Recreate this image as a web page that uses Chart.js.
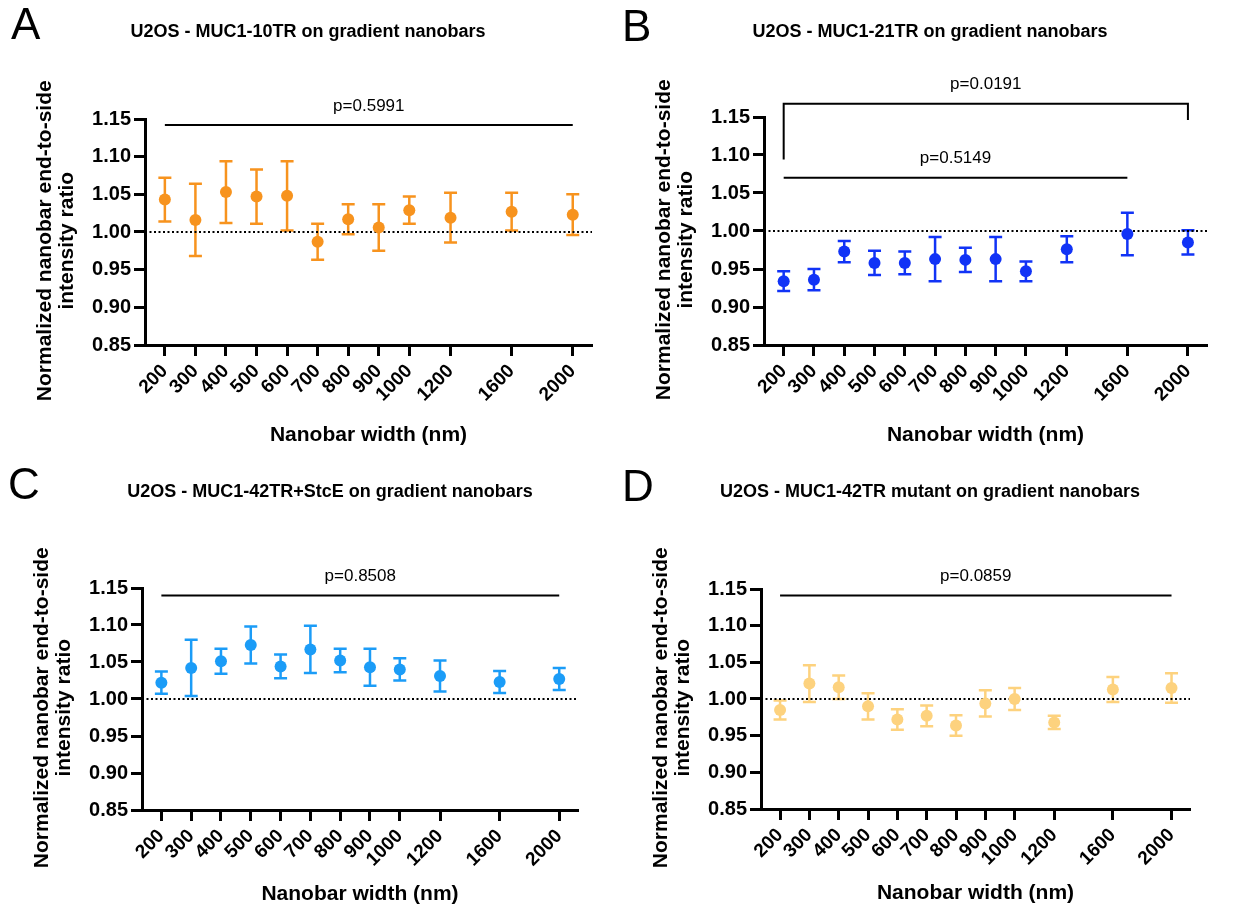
<!DOCTYPE html>
<html>
<head>
<meta charset="utf-8">
<script src="https://cdn.jsdelivr.net/npm/chart.js@4/dist/chart.umd.min.js"></script>
<style>
  html, body { margin: 0; padding: 0; background: #fff; }
  body { width: 1235px; height: 915px; position: relative; overflow: hidden; font-family: "Liberation Sans", Arial, sans-serif; }
  .panel { position: absolute; }
  .letter { position: absolute; font-family: "Liberation Sans", Arial, sans-serif; font-size: 44px; line-height: 44px; color: #000; }
  .title { position: absolute; font-size: 18px; line-height: 18px; font-weight: bold; white-space: nowrap; transform: translateX(-50%); color: #000; }
</style>
</head>
<body>
<script>
// --- data ---
const WIDTHS = [200, 300, 400, 500, 600, 700, 800, 900, 1000, 1200, 1600, 2000];
const Y_TICKS = [0.85, 0.90, 0.95, 1.00, 1.05, 1.10, 1.15];
const REF_LEVEL = 1.0;

// x axis spacing is uneven (like the Prism layout): piecewise linear
const WIDTH_KNOTS = [200, 1000, 1200, 1600, 2000];
const SLOT_KNOTS = [0, 8, 9.35, 11.35, 13.35];

const meanA = [1.043, 1.016, 1.053, 1.047, 1.048, 0.987, 1.017, 1.006, 1.029, 1.019, 1.027, 1.023];
const errA  = [0.029, 0.048, 0.041, 0.036, 0.046, 0.024, 0.020, 0.031, 0.018, 0.033, 0.025, 0.027];

const meanB = [0.934, 0.936, 0.973, 0.958, 0.958, 0.963, 0.962, 0.963, 0.947, 0.976, 0.996, 0.985];
const errB  = [0.013, 0.014, 0.014, 0.016, 0.015, 0.029, 0.016, 0.029, 0.013, 0.017, 0.028, 0.016];

const meanC = [1.022, 1.042, 1.051, 1.073, 1.044, 1.067, 1.052, 1.043, 1.040, 1.031, 1.023, 1.027];
const errC  = [0.015, 0.038, 0.017, 0.025, 0.016, 0.032, 0.016, 0.025, 0.015, 0.021, 0.015, 0.015];

const meanD = [0.985, 1.021, 1.016, 0.990, 0.972, 0.977, 0.964, 0.994, 1.000, 0.968, 1.013, 1.015];
const errD  = [0.013, 0.025, 0.016, 0.018, 0.014, 0.014, 0.014, 0.018, 0.015, 0.009, 0.017, 0.020];

// significance lines: from/to widths, level on the y scale, optional bracket legs
const pLinesA = [{ from: 200, to: 2000, level: 1.142, text: 'p=0.5991' }];
const pLinesB = [
  { from: 200, to: 2000, level: 1.1675, legs: [1.094, 1.146], text: 'p=0.0191' },
  { from: 200, to: 1600, level: 1.070, text: 'p=0.5149' }
];
const pLinesC = [{ from: 200, to: 2000, level: 1.140, text: 'p=0.8508' }];
const pLinesD = [{ from: 200, to: 2000, level: 1.141, text: 'p=0.0859' }];

// --- layout ---
const Y_BOX = 145;     // room for y title + tick labels
const TOP_PAD = 119;   // room above the plot for p-value lines
const RIGHT_PAD = 25;
const X_MIN = -0.65, X_MAX = 13.98;

Chart.defaults.font.family = '"Liberation Sans", Arial, sans-serif';
Chart.defaults.color = '#000';

function toSlot(w) {
  for (let i = 1; i < WIDTH_KNOTS.length; i++) {
    if (w <= WIDTH_KNOTS[i]) {
      const t = (w - WIDTH_KNOTS[i - 1]) / (WIDTH_KNOTS[i] - WIDTH_KNOTS[i - 1]);
      return SLOT_KNOTS[i - 1] + t * (SLOT_KNOTS[i] - SLOT_KNOTS[i - 1]);
    }
  }
  return SLOT_KNOTS[SLOT_KNOTS.length - 1];
}

function addText(cls, text, css) {
  const d = document.createElement('div');
  d.className = cls;
  d.textContent = text;
  Object.assign(d.style, css);
  document.body.appendChild(d);
}

// error bars (drawn under the dots)
function errorBarPlugin(errors, color) {
  return {
    id: 'errorBars',
    beforeDatasetsDraw(chart) {
      const meta = chart.getDatasetMeta(1);
      const ys = chart.scales.y;
      const ctx = chart.ctx;
      ctx.save();
      ctx.strokeStyle = color;
      ctx.lineWidth = 2.5;
      meta.data.forEach((pt, i) => {
        const v = chart.data.datasets[1].data[i].y;
        const top = ys.getPixelForValue(v + errors[i]);
        const bot = ys.getPixelForValue(v - errors[i]);
        ctx.beginPath();
        ctx.moveTo(pt.x, top); ctx.lineTo(pt.x, bot);
        ctx.moveTo(pt.x - 6.5, top); ctx.lineTo(pt.x + 6.5, top);
        ctx.moveTo(pt.x - 6.5, bot); ctx.lineTo(pt.x + 6.5, bot);
        ctx.stroke();
      });
      ctx.restore();
    }
  };
}

// p-value lines / brackets above the plot
function pValuePlugin(lines) {
  return {
    id: 'pValues',
    afterDraw(chart) {
      const xs = chart.scales.x, ys = chart.scales.y;
      const ctx = chart.ctx;
      ctx.save();
      ctx.strokeStyle = '#000';
      ctx.fillStyle = '#000';
      ctx.lineWidth = 2;
      ctx.font = '17px "Liberation Sans", Arial, sans-serif';
      ctx.textAlign = 'center';
      ctx.textBaseline = 'alphabetic';
      lines.forEach(l => {
        const x1 = xs.getPixelForValue(toSlot(l.from));
        const x2 = xs.getPixelForValue(toSlot(l.to));
        const y = ys.getPixelForValue(l.level);
        ctx.beginPath();
        if (l.legs) {
          ctx.moveTo(x1, ys.getPixelForValue(l.legs[0]));
          ctx.lineTo(x1, y);
          ctx.lineTo(x2, y);
          ctx.lineTo(x2, ys.getPixelForValue(l.legs[1]));
        } else {
          ctx.moveTo(x1, y);
          ctx.lineTo(x2, y);
        }
        ctx.stroke();
        ctx.fillText(l.text, (x1 + x2) / 2, y - 14.5);
      });
      ctx.restore();
    }
  };
}

function makePanel(p) {
  const w = p.plot.width + Y_BOX + RIGHT_PAD;
  const h = p.plot.height + TOP_PAD + p.xBox;
  const wrap = document.createElement('div');
  wrap.className = 'panel';
  wrap.style.left = (p.plot.left - Y_BOX) + 'px';
  wrap.style.top = (p.plot.top - TOP_PAD) + 'px';
  const cv = document.createElement('canvas');
  cv.width = w; cv.height = h;
  cv.style.width = w + 'px'; cv.style.height = h + 'px';
  wrap.appendChild(cv);
  document.body.appendChild(wrap);

  addText('letter', p.letter, { left: p.letterPos[0] + 'px', top: p.letterPos[1] + 'px' });
  addText('title', p.title, { left: p.titlePos[0] + 'px', top: p.titlePos[1] + 'px' });

  new Chart(cv.getContext('2d'), {
    data: {
      datasets: [
        {
          type: 'line',
          data: [{ x: X_MIN, y: REF_LEVEL }, { x: X_MAX, y: REF_LEVEL }],
          borderColor: '#000',
          borderWidth: 2,
          borderDash: [2, 2.5],
          pointRadius: 0,
          order: 2
        },
        {
          type: 'scatter',
          data: WIDTHS.map((wd, i) => ({ x: toSlot(wd), y: p.mean[i] })),
          backgroundColor: p.color,
          borderWidth: 0,
          pointRadius: 6,
          pointHoverRadius: 6,
          order: 1
        }
      ]
    },
    options: {
      responsive: false,
      animation: false,
      devicePixelRatio: 1,
      layout: { padding: { top: TOP_PAD, right: RIGHT_PAD, left: 0, bottom: 0 } },
      plugins: { legend: { display: false }, tooltip: { enabled: false }, title: { display: false } },
      scales: {
        x: {
          type: 'linear',
          min: X_MIN,
          max: X_MAX,
          afterBuildTicks: s => { s.ticks = WIDTHS.map(wd => ({ value: toSlot(wd) })); },
          afterFit: s => { s.height = p.xBox; },
          border: { display: true, color: '#000', width: 3 },
          grid: { drawOnChartArea: false, drawTicks: true, tickLength: 11, tickWidth: 3, tickColor: '#000' },
          ticks: {
            autoSkip: false, minRotation: 45, maxRotation: 45, padding: 4,
            color: '#000', font: { size: 19, weight: 'bold' },
            callback: (v, i) => WIDTHS[i]
          },
          title: {
            display: true, text: 'Nanobar width (nm)', color: '#000',
            font: { size: 21, weight: 'bold' }, padding: { top: 0, bottom: 3 }
          }
        },
        y: {
          type: 'linear',
          min: 0.85,
          max: 1.15,
          afterBuildTicks: s => { s.ticks = Y_TICKS.map(v => ({ value: v })); },
          afterFit: s => { s.width = Y_BOX; },
          border: { display: true, color: '#000', width: 3 },
          grid: { drawOnChartArea: false, drawTicks: true, tickLength: 11, tickWidth: 3, tickColor: '#000' },
          ticks: {
            padding: 3, color: '#000', font: { size: 20, weight: 'bold' },
            callback: v => Number(v).toFixed(2)
          },
          title: {
            display: true, text: ['Normalized nanobar end-to-side   ', 'intensity ratio   '], color: '#000',
            font: { size: 21, weight: 'bold', lineHeight: 22 / 21 }, padding: { top: 34, bottom: 0 }
          }
        }
      }
    },
    plugins: [errorBarPlugin(p.err, p.color), pValuePlugin(p.pLines)]
  });
}

makePanel({
  letter: 'A', letterPos: [11, 2],
  title: 'U2OS - MUC1-10TR on gradient nanobars', titlePos: [308, 22],
  plot: { left: 145, top: 119, width: 447, height: 226 }, xBox: 106,
  color: '#F7931E', mean: meanA, err: errA, pLines: pLinesA
});
makePanel({
  letter: 'B', letterPos: [622, 4],
  title: 'U2OS - MUC1-21TR on gradient nanobars', titlePos: [930, 22],
  plot: { left: 764, top: 117, width: 443, height: 228 }, xBox: 106,
  color: '#1133F6', mean: meanB, err: errB, pLines: pLinesB
});
makePanel({
  letter: 'C', letterPos: [8, 462],
  title: 'U2OS - MUC1-42TR+StcE on gradient nanobars', titlePos: [330, 482],
  plot: { left: 142, top: 588, width: 436, height: 222 }, xBox: 100,
  color: '#1B9CF7', mean: meanC, err: errC, pLines: pLinesC
});
makePanel({
  letter: 'D', letterPos: [622, 464],
  title: 'U2OS - MUC1-42TR mutant on gradient nanobars', titlePos: [930, 482],
  plot: { left: 761, top: 589, width: 429, height: 220 }, xBox: 100,
  color: '#FDD27E', mean: meanD, err: errD, pLines: pLinesD
});
</script>
</body>
</html>
